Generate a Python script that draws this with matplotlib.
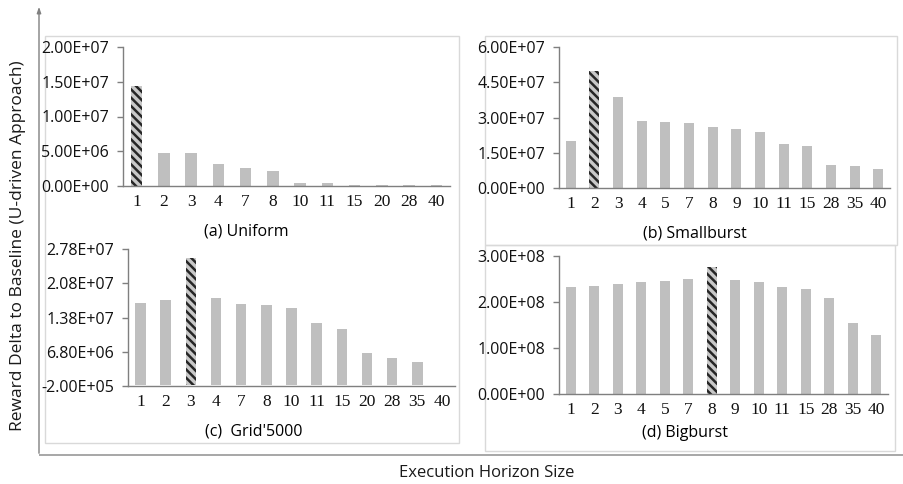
import matplotlib
matplotlib.use("Agg")
import matplotlib.pyplot as plt
from matplotlib.patches import Rectangle

W, H = 904, 484

# execution horizon sizes and reward deltas per workload
uniform_x = ["1", "2", "3", "4", "7", "8", "10", "11", "15", "20", "28", "40"]
uniform_y = [1.44e7, 4.8e6, 4.8e6, 3.2e6, 2.6e6, 2.15e6, 3.8e5, 3.8e5, 2.0e5, 2.0e5, 2.0e5, 2.0e5]

smallburst_x = ["1", "2", "3", "4", "5", "7", "8", "9", "10", "11", "15", "28", "35", "40"]
smallburst_y = [1.98e7, 4.99e7, 3.89e7, 2.85e7, 2.79e7, 2.75e7, 2.59e7, 2.49e7, 2.39e7,
                1.88e7, 1.78e7, 9.9e6, 9.4e6, 8.0e6]

grid_x = ["1", "2", "3", "4", "7", "8", "10", "11", "15", "20", "28", "35", "40"]
grid_y = [1.68e7, 1.73e7, 2.60e7, 1.77e7, 1.66e7, 1.64e7, 1.57e7, 1.27e7, 1.15e7,
          6.5e6, 5.45e6, 4.7e6, 0.0]

bigburst_x = ["1", "2", "3", "4", "5", "7", "8", "9", "10", "11", "15", "28", "35", "40"]
bigburst_y = [2.32e8, 2.355e8, 2.40e8, 2.44e8, 2.45e8, 2.49e8, 2.77e8, 2.47e8, 2.435e8,
              2.32e8, 2.29e8, 2.08e8, 1.55e8, 1.29e8]

# best horizon per workload (hatched bar)
best = {"uniform": "1", "smallburst": "2", "grid": "3", "bigburst": "8"}

uniform_ticks = [0, 5e6, 1e7, 1.5e7, 2e7]
smallburst_ticks = [0, 1.5e7, 3e7, 4.5e7, 6e7]
grid_ticks = [-2e5, 6.8e6, 1.38e7, 2.08e7, 2.78e7]
bigburst_ticks = [0, 1e8, 2e8, 3e8]

plt.rcParams["hatch.linewidth"] = 1.8

BAR = "#BFBFBF"
AXC = "#7F7F7F"
SANS = "Open Sans"
SERIF = "Liberation Serif"

fig = plt.figure(figsize=(W / 100, H / 100), dpi=100)

# background layer in pixel coordinates: frames, arrows, labels
bg = fig.add_axes([0, 0, 1, 1], zorder=0)
bg.set_xlim(0, W)
bg.set_ylim(H, 0)
bg.axis("off")

for (x0, y0, x1, y1) in [(45, 36, 459, 443), (485, 36, 897, 245), (485, 245, 895, 451)]:
    bg.add_patch(Rectangle((x0, y0), x1 - x0, y1 - y0, fill=False,
                           edgecolor="#D9D9D9", lw=1.0))

bg.plot([39, 904], [455, 455], color="#A0A0A0", lw=1.3, solid_capstyle="butt")
bg.annotate("", xy=(39, 4), xytext=(39, 456),
            arrowprops=dict(arrowstyle="-|>,head_length=0.35,head_width=0.12",
                            color="#808080", lw=1.0))

bg.text(18, 246, "Reward Delta to Baseline (U-driven Approach)", rotation=90,
        ha="center", va="center", fontsize=12.5, family=SANS, color="#1a1a1a")
bg.text(487, 473, "Execution Horizon Size", ha="center", va="center",
        fontsize=12, family=SANS, color="#1a1a1a")

bg.text(246, 232, "(a) Uniform", ha="center", va="center", fontsize=11.5, family=SANS)
bg.text(695, 234, "(b) Smallburst", ha="center", va="center", fontsize=11.5, family=SANS)
bg.text(254, 432, "(c)  Grid'5000", ha="center", va="center", fontsize=11.5, family=SANS)
bg.text(685, 433, "(d) Bigburst", ha="center", va="center", fontsize=11.5, family=SANS)


def panel(px, cats, vals, ticks, hatch_cat):
    left, top, right, bottom = px
    ax = fig.add_axes([left / W, 1 - bottom / H, (right - left) / W, (bottom - top) / H],
                      zorder=1)
    ax.patch.set_alpha(0)
    pos = list(range(len(cats)))
    bars = ax.bar(pos, vals, width=0.42, color=BAR, linewidth=0)
    i = cats.index(hatch_cat)
    bars[i].set_hatch(r"\\\\")
    bars[i].set_edgecolor("#262626")
    bars[i].set_facecolor("#C8C8C8")
    ax.set_xlim(-0.5, len(cats) - 0.5)
    ax.set_ylim(ticks[0], ticks[-1])
    ax.set_yticks(ticks)
    ax.set_yticklabels(["{:.2E}".format(t) for t in ticks], family=SANS, fontsize=11.5)
    ax.set_xticks(pos)
    ax.set_xticklabels(cats, family=SERIF, fontsize=12.5)
    for s in ["top", "right"]:
        ax.spines[s].set_visible(False)
    for s in ["left", "bottom"]:
        ax.spines[s].set_color(AXC)
        ax.spines[s].set_linewidth(1.0)
    ax.tick_params(axis="y", direction="out", length=4, width=1.0, color=AXC,
                   pad=6, labelcolor="#111111")
    ax.tick_params(axis="x", length=0, pad=6, labelcolor="#111111")
    return ax


panel((123, 47, 450, 186), uniform_x, uniform_y, uniform_ticks, best["uniform"])
panel((559, 47, 890, 188), smallburst_x, smallburst_y, smallburst_ticks, best["smallburst"])
panel((128, 249, 455, 386), grid_x, grid_y, grid_ticks, best["grid"])
panel((559, 256, 888, 394), bigburst_x, bigburst_y, bigburst_ticks, best["bigburst"])

fig.savefig("out.png", dpi=100)
